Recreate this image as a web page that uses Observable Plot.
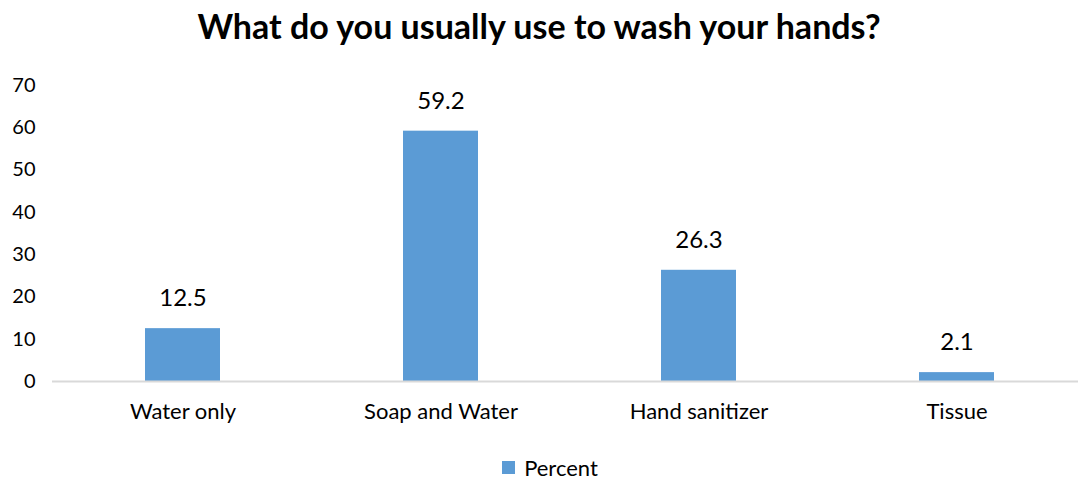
<!DOCTYPE html>
<html>
<head>
<meta charset="utf-8">
<script src="https://cdn.jsdelivr.net/npm/d3@7"></script>
<script src="https://cdn.jsdelivr.net/npm/@observablehq/plot@0.6"></script>
<style>
  body { margin: 0; background: #fff; font-family: Lato, "Open Sans", sans-serif; }
  #wrap { width: 1078px; height: 479px; position: relative; }
  #title { height: 60px; line-height: 52px; text-align: center; font-size: 34px; font-weight: bold; color: #000; }
  #legend { height: 39px; display: flex; justify-content: center; align-items: center; font-size: 22px; color: #000; padding-top: 16px; padding-left: 22px; box-sizing: border-box; }
  #legend .sw { width: 13px; height: 13px; background: #5B9BD5; margin-right: 9px; }
</style>
</head>
<body>
<div id="wrap">
  <div id="title">What do you usually use to wash your hands?</div>
  <div id="chart"></div>
  <div id="legend"><span class="sw"></span><span>Percent</span></div>
</div>
<script>
const categories = ["Water only", "Soap and Water", "Hand sanitizer", "Tissue"];
const percent = [12.5, 59.2, 26.3, 2.1];
const yTicks = [0, 10, 20, 30, 40, 50, 60, 70];
const seriesName = "Percent";

const data = categories.map((c, i) => ({category: c, value: percent[i]}));

const chart = Plot.plot({
  width: 1078,
  height: 380,
  marginTop: 25,
  marginBottom: 59,
  marginLeft: 52,
  marginRight: 0,
  style: {fontFamily: "Lato, 'Open Sans', sans-serif", fontSize: "20px", color: "#000", background: "#fff"},
  x: {domain: categories, range: [52, 1087], paddingInner: 0.71, paddingOuter: 0.355, label: null},
  y: {domain: [0, 70], ticks: yTicks, label: null},
  marks: [
    Plot.axisY({ticks: yTicks, tickSize: 0, tickPadding: 17, fontSize: 20, label: null}),
    Plot.axisX({tickSize: 0, tickPadding: 22, fontSize: 22, label: null}),
    Plot.barY(data, {x: "category", y: "value", fill: "#5B9BD5"}),
    Plot.ruleY([0], {stroke: "#D9D9D9", strokeWidth: 2}),
    Plot.text(data, {x: "category", y: "value", text: d => d.value.toFixed(1), dy: -30, fontSize: 24, fill: "#000"})
  ]
});
document.getElementById("chart").appendChild(chart);
</script>
</body>
</html>
